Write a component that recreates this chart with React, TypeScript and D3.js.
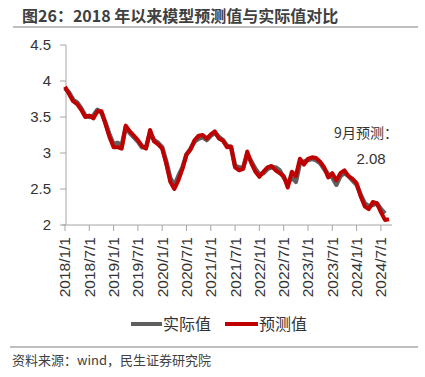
import React from "react";
import * as d3 from "d3";

const yTicks = [2, 2.5, 3, 3.5, 4, 4.5];
const yTickLabels = ["2", "2.5", "3", "3.5", "4", "4.5"];
const xTickLabels = [
  "2018/1/1", "2018/7/1", "2019/1/1", "2019/7/1", "2020/1/1", "2020/7/1", "2021/1/1",
  "2021/7/1", "2022/1/1", "2022/7/1", "2023/1/1", "2023/7/1", "2024/1/1", "2024/7/1",
];
// monthly, starting 2018/1
const actual = [
  3.90, 3.84, 3.74, 3.70, 3.62, 3.52, 3.50, 3.52, 3.60, 3.56, 3.42, 3.25,
  3.12, 3.14, 3.10, 3.36, 3.28, 3.22, 3.16, 3.08, 3.08, 3.28, 3.18, 3.14,
  3.08, 2.88, 2.65, 2.55, 2.68, 2.80, 2.98, 3.06, 3.16, 3.20, 3.22, 3.18,
  3.24, 3.28, 3.22, 3.18, 3.10, 3.08, 2.82, 2.80, 2.80, 2.98, 2.88, 2.78,
  2.70, 2.72, 2.78, 2.80, 2.80, 2.76, 2.66, 2.58, 2.66, 2.60, 2.86, 2.88,
  2.90, 2.92, 2.90, 2.86, 2.78, 2.70, 2.66, 2.56, 2.68, 2.72, 2.68, 2.62,
  2.56, 2.42, 2.30, 2.26, 2.28, 2.30, 2.22, 2.16,
];
const predicted = [
  3.92, 3.82, 3.72, 3.68, 3.60, 3.50, 3.52, 3.48, 3.58, 3.58, 3.40, 3.22,
  3.08, 3.08, 3.06, 3.38, 3.30, 3.24, 3.18, 3.10, 3.06, 3.32, 3.16, 3.12,
  3.06, 2.85, 2.60, 2.50, 2.62, 2.78, 2.98, 3.05, 3.18, 3.24, 3.25, 3.20,
  3.26, 3.30, 3.20, 3.17, 3.08, 3.09, 2.80, 2.76, 2.78, 3.02, 2.86, 2.74,
  2.67, 2.74, 2.80, 2.82, 2.76, 2.72, 2.68, 2.52, 2.74, 2.68, 2.92, 2.84,
  2.92, 2.94, 2.93, 2.88, 2.80, 2.66, 2.72, 2.62, 2.72, 2.76, 2.68, 2.64,
  2.58, 2.40, 2.26, 2.22, 2.32, 2.30, 2.18, 2.07, 2.08,
];
const seriesNames = ["实际值", "预测值"];
const title = "图26：2018 年以来模型预测值与实际值对比";
const source = "资料来源：wind，民生证券研究院";
const annotation = ["9月预测：", "2.08"];

const FONT = "'Noto Sans CJK SC', 'Noto Sans', sans-serif";
const NUMFONT = "'Liberation Sans', Arial, sans-serif";

export default function App() {
  const W = 425, H = 377;
  const x = d3.scaleLinear().domain([0, 80]).range([65, 389]);
  const y = d3.scaleLinear().domain([2, 4.5]).range([225, 45]);
  const line = d3.line<number>().x((_, i) => x(i)).y((d) => y(d)).curve(d3.curveLinear);
  const axisColor = "#a6a6a6";
  const textColor = "#333";

  return (
    <svg width={W} height={H} style={{ position: "absolute", left: 0, top: 0, background: "#fff" }}>
      <text x={22} y={22} fontFamily={FONT} fontSize={16} fontWeight="bold" fill="#404040">{title}</text>
      <line x1={13} x2={418} y1={27} y2={27} stroke="#7f7f7f" strokeWidth={1} />

      {/* y axis */}
      <line x1={66} x2={66} y1={y(4.5)} y2={y(2)} stroke={axisColor} strokeWidth={1} />
      {yTicks.map((t, i) => (
        <g key={i}>
          <line x1={60} x2={66} y1={y(t)} y2={y(t)} stroke={axisColor} />
          <text x={51} y={y(t)} dy="0.35em" textAnchor="end" fontFamily={NUMFONT} fontSize={15} fill={textColor}>{yTickLabels[i]}</text>
        </g>
      ))}
      {/* x axis */}
      <line x1={62} x2={392} y1={y(2)} y2={y(2)} stroke={axisColor} strokeWidth={1} />
      {xTickLabels.map((lab, i) => {
        const xx = x(i * 6);
        return (
          <g key={i}>
            <line x1={xx} x2={xx} y1={225} y2={231} stroke={axisColor} />
            <text transform={`translate(${xx},237) rotate(-90)`} dy="0.35em" textAnchor="end" fontFamily={NUMFONT} fontSize={15.5} fill={textColor}>{lab}</text>
          </g>
        );
      })}

      <path d={line(actual) || ""} fill="none" stroke="#5f5f5f" strokeWidth={4.5} strokeLinejoin="round" />
      <path d={line(predicted) || ""} fill="none" stroke="#c00000" strokeWidth={4} strokeLinejoin="round" />

      <text x={366} y={133} dy="0.35em" textAnchor="middle" fontFamily={FONT} fontSize={14} fill={textColor}>{annotation[0]}</text>
      <text x={371} y={159} dy="0.35em" textAnchor="middle" fontFamily={NUMFONT} fontSize={15} fill={textColor}>{annotation[1]}</text>

      {/* legend */}
      <line x1={131} x2={162} y1={324} y2={324} stroke="#5f5f5f" strokeWidth={4} />
      <text x={163} y={324} dy="0.35em" fontFamily={FONT} fontSize={16} fill={textColor}>{seriesNames[0]}</text>
      <line x1={225} x2={258} y1={324} y2={324} stroke="#c00000" strokeWidth={4} />
      <text x={259} y={324} dy="0.35em" fontFamily={FONT} fontSize={16} fill={textColor}>{seriesNames[1]}</text>

      <line x1={10} x2={418} y1={347} y2={347} stroke="#7f7f7f" strokeWidth={1} />
      <text x={12} y={360} dy="0.35em" fontFamily={FONT} fontSize={13} fill="#404040">{source}</text>
    </svg>
  );
}
